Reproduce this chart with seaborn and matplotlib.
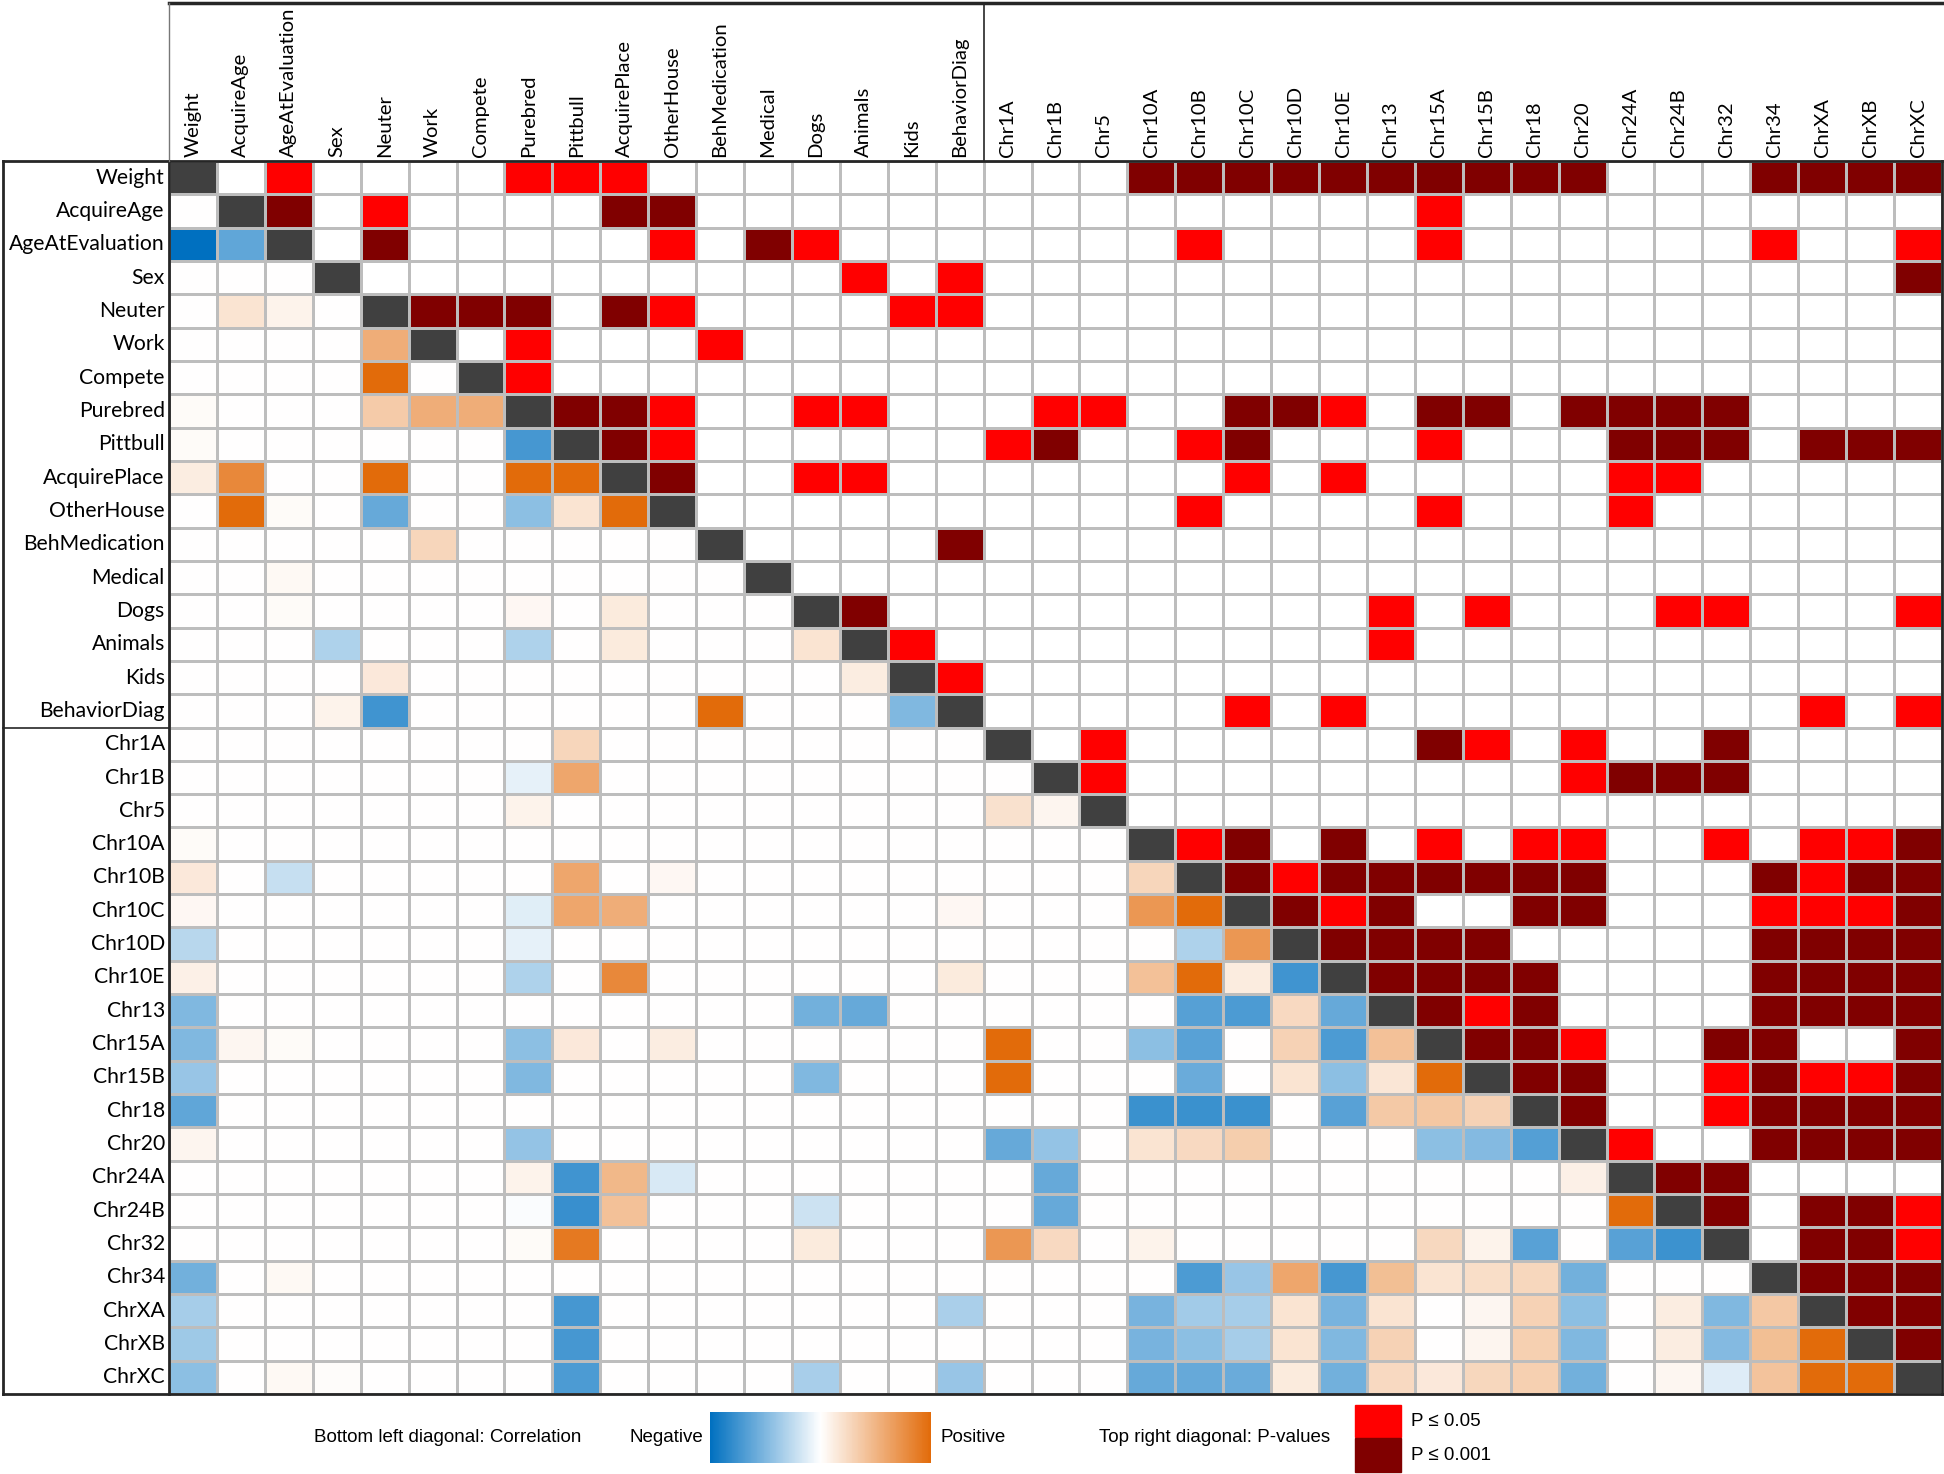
import numpy as np
import pandas as pd
import matplotlib
matplotlib.use('Agg')
import matplotlib.pyplot as plt
import seaborn as sns
from matplotlib.colors import LinearSegmentedColormap, ListedColormap, Normalize
from matplotlib.cm import ScalarMappable
from matplotlib.patches import Rectangle

plt.rcParams['font.family'] = ['Lato', 'DejaVu Sans']

behavior_labels = ["Weight", "AcquireAge", "AgeAtEvaluation", "Sex", "Neuter", "Work",
                   "Compete", "Purebred", "Pittbull", "AcquirePlace", "OtherHouse",
                   "BehMedication", "Medical", "Dogs", "Animals", "Kids", "BehaviorDiag"]
genetic_labels = ["Chr1A", "Chr1B", "Chr5", "Chr10A", "Chr10B", "Chr10C", "Chr10D",
                  "Chr10E", "Chr13", "Chr15A", "Chr15B", "Chr18", "Chr20", "Chr24A",
                  "Chr24B", "Chr32", "Chr34", "ChrXA", "ChrXB", "ChrXC"]
labels = behavior_labels + genetic_labels
n = len(labels)

# upper triangle: '.' not significant, '1' P<=0.05, '2' P<=0.001 ('-' = lower/diag)
# each row = 17 behaviour columns + 20 genetic columns
pval_rows = [
    "-.1....111......." + "...2222222222...2222",
    "--2.1....22......" + ".........1..........",
    "---.2.....1.21..." + "....1....1......1..1",
    "----..........1.1" + "...................2",
    "-----222.21....11" + "....................",
    "------.1...1....." + "....................",
    "-------1........." + "....................",
    "--------221..11.." + ".11..221.22.2222....",
    "---------21......" + "12..12...1...222.222",
    "----------2..11.." + ".....1.1.....11.....",
    "-----------......" + "....1....1...1......",
    "------------....2" + "....................",
    "-------------...." + "....................",
    "--------------2.." + "........1.1...11...1",
    "---------------1." + "........1...........",
    "----------------1" + "....................",
    "-----------------" + ".....1.1.........1.1",
    "-----------------" + "-.1......21.1..2....",
    "-----------------" + "--1.........1222....",
    "-----------------" + "---.................",
    "-----------------" + "----12.2.1.11..1.112",
    "-----------------" + "-----21222222...2122",
    "-----------------" + "------212..22...1112",
    "-----------------" + "-------2222.....2222",
    "-----------------" + "--------2222....2222",
    "-----------------" + "---------212....2222",
    "-----------------" + "----------221..22..2",
    "-----------------" + "-----------22..12112",
    "-----------------" + "------------2..12222",
    "-----------------" + "-------------1..2222",
    "-----------------" + "--------------22....",
    "-----------------" + "---------------2.221",
    "-----------------" + "----------------.221",
    "-----------------" + "-----------------222",
    "-----------------" + "------------------22",
    "-----------------" + "-------------------2",
    "-----------------" + "--------------------",
]

# lower triangle correlations: row index -> {column index: r}
corr_lower = {
    2: {0: -1.0, 1: -0.62},
    4: {1: 0.18, 2: 0.08},
    5: {4: 0.55},
    6: {4: 1.0},
    7: {0: 0.03, 4: 0.35, 5: 0.55, 6: 0.55},
    8: {0: 0.03, 7: -0.72},
    9: {0: 0.12, 1: 0.8, 4: 1.0, 7: 1.0, 8: 1.0},
    10: {1: 1.0, 2: 0.03, 4: -0.6, 7: -0.45, 8: 0.18, 9: 1.0},
    11: {5: 0.28},
    12: {2: 0.04},
    13: {2: 0.03, 7: 0.05, 9: 0.14},
    14: {3: -0.32, 7: -0.32, 9: 0.14, 13: 0.18},
    15: {4: 0.15, 14: 0.12},
    16: {3: 0.08, 4: -0.75, 11: 1.0, 15: -0.5},
    17: {8: 0.28},
    18: {7: -0.1, 8: 0.6},
    19: {7: 0.08, 17: 0.2, 18: 0.07},
    20: {0: 0.03},
    21: {0: 0.15, 2: -0.22, 8: 0.6, 10: 0.05, 20: 0.28},
    22: {0: 0.05, 7: -0.12, 8: 0.6, 9: 0.55, 16: 0.05, 20: 0.7, 21: 1.0},
    23: {0: -0.28, 7: -0.1, 21: -0.32, 22: 0.7},
    24: {0: 0.1, 7: -0.32, 9: 0.8, 16: 0.14, 20: 0.42, 21: 1.0, 22: 0.13, 23: -0.75},
    25: {0: -0.5, 13: -0.55, 14: -0.6, 21: -0.66, 22: -0.7, 23: 0.25, 24: -0.6},
    26: {0: -0.5, 1: 0.06, 2: 0.03, 7: -0.45, 8: 0.15, 10: 0.12, 17: 1.0, 20: -0.45,
         21: -0.65, 23: 0.3, 24: -0.7, 25: 0.42},
    27: {0: -0.4, 7: -0.5, 13: -0.5, 17: 1.0, 21: -0.58, 23: 0.18, 24: -0.45, 25: 0.17,
         26: 1.0},
    28: {0: -0.62, 20: -0.77, 21: -0.77, 22: -0.77, 24: -0.65, 25: 0.36, 26: 0.38, 27: 0.3},
    29: {0: 0.07, 7: -0.42, 17: -0.6, 18: -0.42, 20: 0.18, 21: 0.25, 22: 0.33, 26: -0.45,
         27: -0.48, 28: -0.67},
    30: {7: 0.08, 8: -0.75, 9: 0.48, 10: -0.15, 18: -0.6, 29: 0.1},
    31: {7: -0.02, 8: -0.78, 9: 0.42, 13: -0.2, 18: -0.6, 30: 1.0},
    32: {7: 0.03, 8: 0.9, 13: 0.14, 17: 0.7, 18: 0.25, 20: 0.08, 26: 0.26, 27: 0.08,
         28: -0.65, 30: -0.65, 31: -0.76},
    33: {0: -0.55, 2: 0.04, 21: -0.7, 22: -0.4, 23: 0.6, 24: -0.72, 25: 0.43, 26: 0.18,
         27: 0.22, 28: 0.27, 29: -0.55},
    34: {0: -0.35, 8: -0.72, 16: -0.33, 20: -0.53, 21: -0.36, 22: -0.35, 23: 0.18,
         24: -0.53, 25: 0.18, 27: 0.06, 28: 0.3, 29: -0.45, 31: 0.12, 32: -0.5, 33: 0.37},
    35: {0: -0.38, 8: -0.72, 20: -0.53, 21: -0.45, 22: -0.35, 23: 0.18, 24: -0.5, 25: 0.3,
         27: 0.07, 28: 0.32, 29: -0.5, 31: 0.12, 32: -0.48, 33: 0.43, 34: 1.0},
    36: {0: -0.45, 2: 0.04, 3: 0.02, 8: -0.7, 13: -0.34, 16: -0.4, 20: -0.6, 21: -0.6,
         22: -0.58, 23: 0.14, 24: -0.55, 25: 0.25, 26: 0.15, 27: 0.27, 28: 0.32, 29: -0.55,
         31: 0.06, 32: -0.13, 33: 0.4, 34: 1.0, 35: 1.0},
}

corr = np.zeros((n, n))
for i, row in corr_lower.items():
    for j, r in row.items():
        corr[i, j] = r
code = {'.': 0, '1': 1, '2': 2, '-': 0}
level = np.array([[code[c] for c in s] for s in pval_rows], dtype=float)

lower = np.tril(np.ones((n, n), dtype=bool), -1)
upper = np.triu(np.ones((n, n), dtype=bool), 1)
diag = np.eye(n, dtype=bool)

corr_df = pd.DataFrame(corr, index=labels, columns=labels)
level_df = pd.DataFrame(level, index=labels, columns=labels)
diag_df = pd.DataFrame(np.ones((n, n)), index=labels, columns=labels)

corr_cmap = LinearSegmentedColormap.from_list("corr", ["#0070C0", "#ffffff", "#E26B0A"])
p_cmap = ListedColormap(["#ffffff", "#ff0000", "#800000"])

W, H = 1944, 1474
fig = plt.figure(figsize=(W / 100, H / 100), dpi=100)
x0, x1, y0, y1 = 169, 1942, 161, 1394
ax = fig.add_axes([x0 / W, 1 - y1 / H, (x1 - x0) / W, (y1 - y0) / H])

grid = dict(linewidths=0.8, linecolor="#bdbdbd", cbar=False, ax=ax)
sns.heatmap(corr_df, mask=~lower, cmap=corr_cmap, vmin=-1, vmax=1, **grid)
sns.heatmap(level_df, mask=~upper, cmap=p_cmap, vmin=-0.5, vmax=2.5, **grid)
sns.heatmap(diag_df, mask=~diag, cmap=ListedColormap(["#404040"]), vmin=0, vmax=2, **grid)

ax.xaxis.tick_top()
ax.set_xticks(np.arange(n) + 0.5)
ax.set_xticklabels(labels, rotation=90, fontsize=14.6)
ax.set_yticks(np.arange(n) + 0.5)
ax.set_yticklabels(labels, rotation=0, fontsize=15.2)
ax.tick_params(length=0, pad=3)
ax.set_xlabel("")
ax.set_ylabel("")

# table borders
cw = (x1 - x0) / n
rh = (y1 - y0) / n
xl = (3 - x0) / cw
yt = (3 - y0) / rh
line = dict(color="#262626", clip_on=False, solid_capstyle="projecting")
ax.plot([xl, n], [0, 0], lw=2, **line)
ax.plot([xl, n], [n, n], lw=2, **line)
ax.plot([xl, xl], [0, n], lw=2, **line)
ax.plot([0, 0], [0, n], lw=2, **line)
ax.plot([n, n], [0, n], lw=2, **line)
ax.plot([0, n], [yt, yt], lw=2.5, **line)
ax.plot([0, 0], [yt, 0], lw=1, color="#777777", clip_on=False)
ax.plot([17, 17], [yt, 0], lw=1.2, **line)
ax.plot([xl, 0], [17, 17], lw=1.2, **line)

# legend
lg = dict(family=["Liberation Sans", "DejaVu Sans"], fontsize=13.5, va="center")
fig.text(314 / W, 1 - 1438 / H, "Bottom left diagonal: Correlation", ha="left", **lg)
fig.text(703 / W, 1 - 1438 / H, "Negative", ha="right", **lg)
fig.text(940 / W, 1 - 1438 / H, "Positive", ha="left", **lg)
fig.text(1099 / W, 1 - 1438 / H, "Top right diagonal: P-values", ha="left", **lg)
fig.text(1411 / W, 1 - 1422 / H, "P \u2264 0.05", ha="left", **lg)
fig.text(1411 / W, 1 - 1456 / H, "P \u2264 0.001", ha="left", **lg)

cax = fig.add_axes([710 / W, 1 - 1463 / H, 221 / W, 51 / H])
cb = fig.colorbar(ScalarMappable(norm=Normalize(-1, 1), cmap=corr_cmap), cax=cax,
                  orientation="horizontal")
cb.set_ticks([])
cb.outline.set_visible(False)

fig.add_artist(Rectangle((1355 / W, 1 - 1437 / H), 46 / W, 32 / H,
                         transform=fig.transFigure, color="#ff0000"))
fig.add_artist(Rectangle((1355 / W, 1 - 1472 / H), 46 / W, 34 / H,
                         transform=fig.transFigure, color="#800000"))

fig.savefig("out.png", dpi=100, facecolor="white")
